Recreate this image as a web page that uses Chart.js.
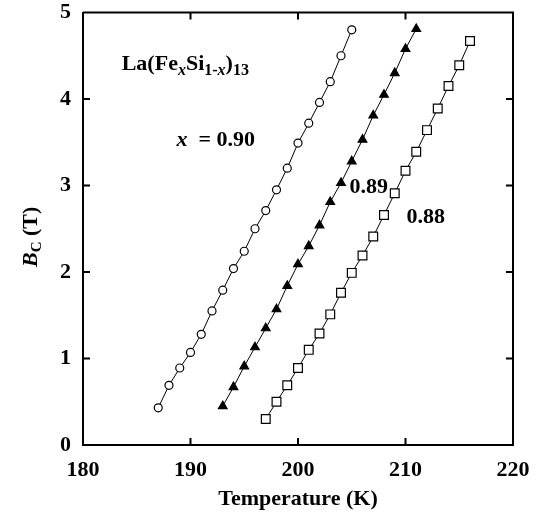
<!DOCTYPE html>
<html>
<head>
<meta charset="utf-8">
<script src="https://cdn.jsdelivr.net/npm/chart.js@4"></script>
<style>
  html, body { margin: 0; padding: 0; background: #fff; }
  canvas { display: block; }
</style>
</head>
<body>
<canvas id="bcChart" width="542" height="522"></canvas>
<script>
// B_C vs temperature for La(FexSi1-x)13
const temps090 = [187, 188, 189, 190, 191, 192, 193, 194, 195, 196, 197, 198, 199, 200, 201, 202, 203, 204, 205];
const bc090 = [0.43, 0.69, 0.89, 1.07, 1.28, 1.55, 1.79, 2.04, 2.24, 2.50, 2.71, 2.95, 3.20, 3.49, 3.72, 3.96, 4.20, 4.50, 4.80];

const temps089 = [193, 194, 195, 196, 197, 198, 199, 200, 201, 202, 203, 204, 205, 206, 207, 208, 209, 210, 211];
const bc089 = [0.45, 0.67, 0.91, 1.13, 1.35, 1.57, 1.84, 2.09, 2.30, 2.54, 2.81, 3.03, 3.28, 3.53, 3.81, 4.05, 4.30, 4.58, 4.81];

const temps088 = [197, 198, 199, 200, 201, 202, 203, 204, 205, 206, 207, 208, 209, 210, 211, 212, 213, 214, 215, 216];
const bc088 = [0.30, 0.50, 0.69, 0.89, 1.10, 1.29, 1.51, 1.76, 1.99, 2.19, 2.41, 2.66, 2.91, 3.17, 3.39, 3.64, 3.89, 4.15, 4.39, 4.67];

const xTicks = [180, 190, 200, 210, 220];
const yTicks = [0, 1, 2, 3, 4, 5];

const SERIF = '"Liberation Serif", "Times New Roman", serif';
const toPoints = (xs, ys) => xs.map((t, i) => ({ x: t, y: ys[i] }));

// draw a run of text pieces (for sub/italic parts)
function drawRuns(ctx, x, y, runs) {
  let cx = x;
  runs.forEach(r => {
    ctx.font = r.f;
    ctx.fillText(r.t, cx, y + (r.dy || 0));
    cx += ctx.measureText(r.t).width;
  });
}

const B = 'bold 22px ' + SERIF;
const BI = 'italic bold 22px ' + SERIF;
const S = 'bold 16px ' + SERIF;
const SI = 'italic bold 16px ' + SERIF;

const framePlugin = {
  id: 'frame',
  afterDraw(chart) {
    const ctx = chart.ctx;
    const { left, right, top, bottom } = chart.chartArea;
    const xs = chart.scales.x, ys = chart.scales.y;
    ctx.save();
    ctx.strokeStyle = '#000';
    ctx.lineWidth = 2;
    ctx.beginPath();
    ctx.moveTo(left, top); ctx.lineTo(right, top); ctx.lineTo(right, bottom);
    // inward ticks
    xTicks.slice(1, -1).forEach(v => {
      const px = xs.getPixelForValue(v);
      ctx.moveTo(px, bottom); ctx.lineTo(px, bottom - 7);
      ctx.moveTo(px, top); ctx.lineTo(px, top + 7);
    });
    yTicks.slice(1, -1).forEach(v => {
      const py = ys.getPixelForValue(v);
      ctx.moveTo(left, py); ctx.lineTo(left + 7, py);
      ctx.moveTo(right, py); ctx.lineTo(right - 7, py);
    });
    ctx.stroke();

    ctx.fillStyle = '#000';
    ctx.textBaseline = 'alphabetic';
    ctx.textAlign = 'left';

    // annotations
    drawRuns(ctx, xs.getPixelForValue(183.6), ys.getPixelForValue(4.33), [
      { t: 'La(Fe', f: B }, { t: 'x', f: SI, dy: 5 }, { t: 'Si', f: B },
      { t: '1-', f: S, dy: 5 }, { t: 'x', f: SI, dy: 5 }, { t: ')', f: B }, { t: '13', f: S, dy: 5 }
    ]);
    drawRuns(ctx, xs.getPixelForValue(188.7), ys.getPixelForValue(3.46), [
      { t: 'x', f: BI }, { t: '  = 0.90', f: B }
    ]);
    drawRuns(ctx, xs.getPixelForValue(204.8), ys.getPixelForValue(2.91), [{ t: '0.89', f: B }]);
    drawRuns(ctx, xs.getPixelForValue(210.1), ys.getPixelForValue(2.57), [{ t: '0.88', f: B }]);

    // axis titles
    ctx.font = 'bold 22px ' + SERIF;
    ctx.textAlign = 'center';
    ctx.fillText('Temperature (K)', (left + right) / 2, 505);

    ctx.textAlign = 'left';
    ctx.translate(37, 267);
    ctx.rotate(-Math.PI / 2);
    drawRuns(ctx, 0, 0, [
      { t: 'B', f: 'italic bold 22px ' + SERIF },
      { t: 'C', f: 'bold 15px ' + SERIF, dy: 4 },
      { t: ' (T)', f: 'bold 22px ' + SERIF }
    ]);
    ctx.restore();
  }
};

const lineStyle = { showLine: true, borderColor: '#000', borderWidth: 1, pointBorderColor: '#000', pointBorderWidth: 1.2 };

new Chart(document.getElementById('bcChart'), {
  type: 'line',
  data: {
    datasets: [
      { ...lineStyle, label: 'x = 0.90', data: toPoints(temps090, bc090), pointStyle: 'circle', pointRadius: 4, pointBackgroundColor: '#fff' },
      { ...lineStyle, label: 'x = 0.89', data: toPoints(temps089, bc089), pointStyle: 'triangle', pointRadius: 5, pointBackgroundColor: '#000' },
      { ...lineStyle, label: 'x = 0.88', data: toPoints(temps088, bc088), pointStyle: 'rect', pointRadius: 6.2, pointBackgroundColor: '#fff' }
    ]
  },
  options: {
    responsive: false,
    animation: false,
    devicePixelRatio: 1,
    layout: { padding: { top: 12.5, right: 29, bottom: 0, left: 0 } },
    plugins: { legend: { display: false }, tooltip: { enabled: false } },
    scales: {
      x: {
        type: 'linear', min: 180, max: 220,
        afterBuildTicks: s => { s.ticks = xTicks.map(v => ({ value: v })); },
        afterFit: s => { s.height = 77; },
        grid: { display: true, drawOnChartArea: false, drawTicks: false },
        border: { display: true, color: '#000', width: 2 },
        ticks: { color: '#000', padding: 12, maxRotation: 0, font: { family: SERIF, size: 22, weight: 'bold' } }
      },
      y: {
        type: 'linear', min: 0, max: 5,
        afterBuildTicks: s => { s.ticks = yTicks.map(v => ({ value: v })); },
        afterFit: s => { s.width = 83; s.paddingTop = 0; s.paddingBottom = 0; },
        grid: { display: true, drawOnChartArea: false, drawTicks: false },
        border: { display: true, color: '#000', width: 2 },
        ticks: { color: '#000', padding: 12, font: { family: SERIF, size: 22, weight: 'bold' } }
      }
    }
  },
  plugins: [framePlugin]
});
</script>
</body>
</html>
